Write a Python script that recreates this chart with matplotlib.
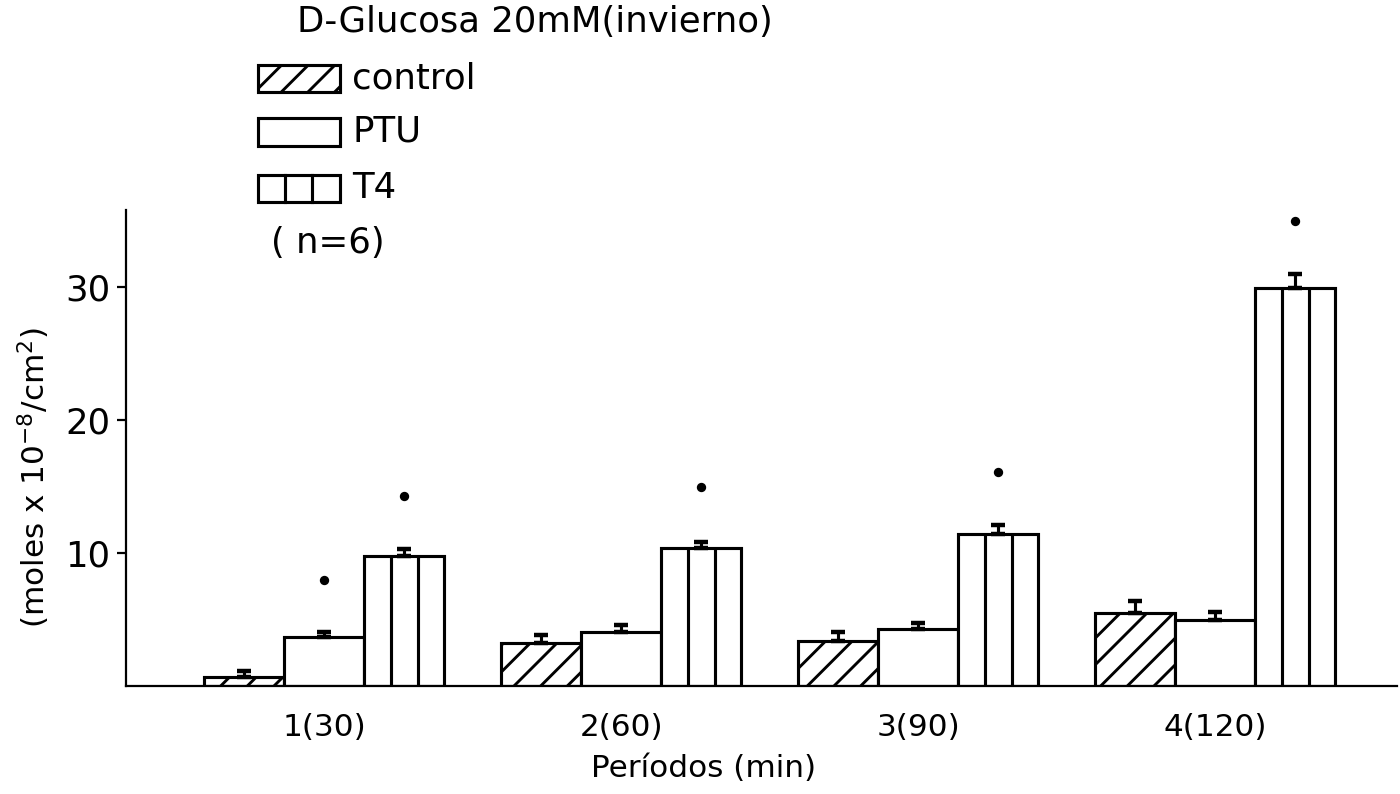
import matplotlib.pyplot as plt
import matplotlib.patches as mpatches
import numpy as np

# data
periods = ["1(30)", "2(60)", "3(90)", "4(120)"]
series = ["control", "PTU", "T4"]
control = [0.7, 3.2, 3.4, 5.5]
control_err = [0.4, 0.6, 0.7, 0.9]
ptu = [3.7, 4.1, 4.3, 5.0]
ptu_err = [0.4, 0.5, 0.45, 0.6]
t4 = [9.8, 10.4, 11.4, 29.9]
t4_err = [0.5, 0.45, 0.7, 1.1]
# significance dots (None = no dot)
ptu_dots = [8.0, None, None, None]
t4_dots = [14.3, 15.0, 16.1, 35.0]

plt.rcParams['font.family'] = ['DejaVu Sans']
plt.rcParams['hatch.linewidth'] = 1.3

dpi = 160
fig = plt.figure(figsize=(1400 / dpi, 794 / dpi), dpi=dpi)
ax = fig.add_axes([0.09, 0.136, 0.908, 0.5995])

x = np.arange(len(periods))
w = 0.27
lw = 1.4

ax.bar(x - w, control, width=w, facecolor='white', edgecolor='black',
       linewidth=lw, hatch='//', zorder=2)
ax.bar(x, ptu, width=w, facecolor='white', edgecolor='black',
       linewidth=lw, zorder=2)
ax.bar(x + w, t4, width=w, facecolor='white', edgecolor='black',
       linewidth=lw, zorder=2)

# inner vertical lines of T4 bars
for xi, h in zip(x + w, t4):
    for f in (-1 / 6, 1 / 6):
        ax.vlines(xi + f * w, 0, h, color='black', linewidth=lw, zorder=3)

# error bars (upper only)
for xs, vals, errs in [(x - w, control, control_err), (x, ptu, ptu_err), (x + w, t4, t4_err)]:
    ax.errorbar(xs, vals, yerr=[np.zeros(len(vals)), errs], fmt='none',
                ecolor='black', elinewidth=1.4, capsize=3, capthick=2, zorder=4)

# significance dots
for xs, dots in [(x, ptu_dots), (x + w, t4_dots)]:
    for xi, d in zip(xs, dots):
        if d is not None:
            ax.plot(xi, d, 'o', color='black', markersize=3.2, zorder=4)

ax.set_xlim(-0.667, 3.613)
ax.set_ylim(0, 35.8)
ax.set_yticks([10, 20, 30])
ax.set_xticks(x)
ax.set_xticklabels(periods)
ax.tick_params(axis='x', length=0, pad=12, labelsize=14)
ax.tick_params(axis='y', direction='out', length=4, width=1, pad=3, labelsize=16)
ax.spines['top'].set_visible(False)
ax.spines['right'].set_visible(False)
ax.spines['left'].set_linewidth(1)
ax.spines['bottom'].set_linewidth(1)
ax.set_xlabel("Períodos (min)", fontsize=14)
ax.xaxis.set_label_coords(0.454, -0.142)
ax.set_ylabel(r"(moles x 10$^{-8}$/cm$^{2}$)", fontsize=14)
ax.yaxis.set_label_coords(-0.058, 0.437)

# title and hand-drawn style legend in figure pixels
W, H = 1400, 794


def fx(px):
    return px / W


def fy(py):
    return 1 - py / H


fig.text(fx(535), fy(22), "D-Glucosa 20mM(invierno)", ha='center', va='center', fontsize=16)

boxes = [(65, 92), (118, 146), (175, 202)]
for (top, bot), name in zip(boxes, series):
    rect = mpatches.Rectangle((fx(258), fy(bot)), fx(340) - fx(258), fy(top) - fy(bot),
                              transform=fig.transFigure, facecolor='white',
                              edgecolor='black', linewidth=lw,
                              hatch='//' if name == "control" else None)
    fig.add_artist(rect)
    if name == "T4":
        for px in (285, 312):
            fig.add_artist(plt.Line2D([fx(px), fx(px)], [fy(bot), fy(top)],
                                      transform=fig.transFigure, color='black', linewidth=lw))
    fig.text(fx(352), fy((top + bot) / 2), name, ha='left', va='center', fontsize=16)

fig.text(fx(328), fy(243), "( n=6)", ha='center', va='center', fontsize=16)

fig.savefig("out.png", dpi=dpi, facecolor='white')
